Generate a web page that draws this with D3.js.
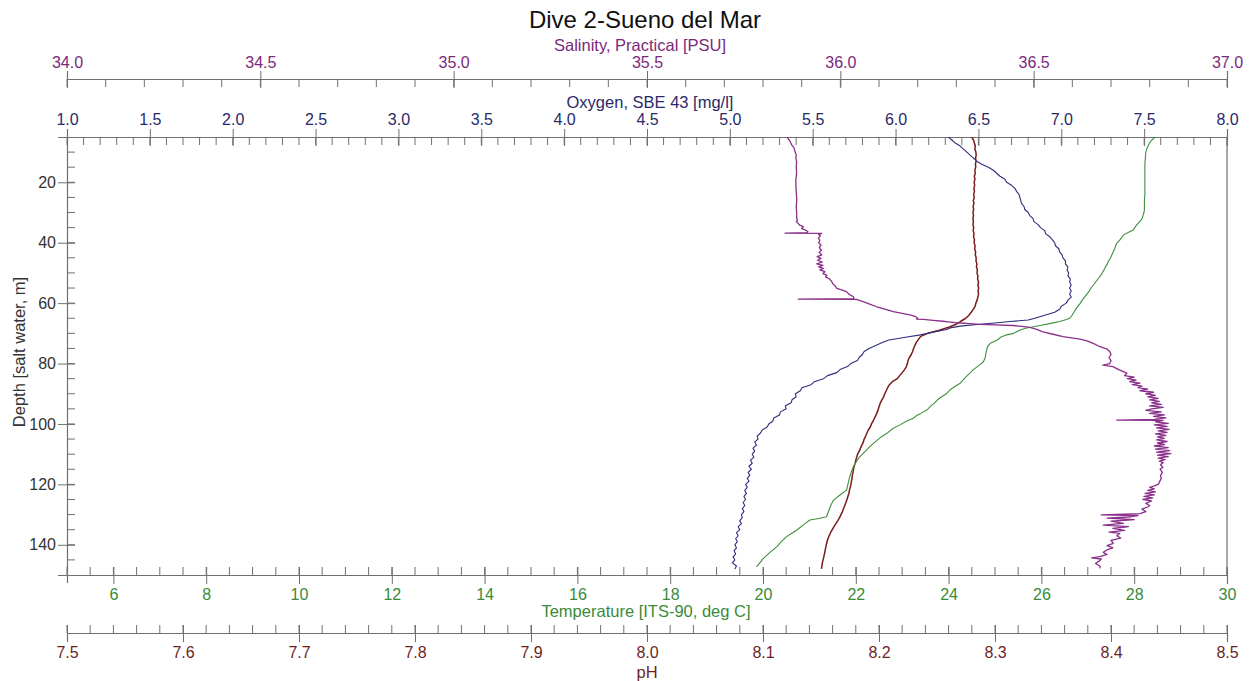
<!DOCTYPE html>
<html>
<head>
<meta charset="utf-8">
<script src="https://cdn.jsdelivr.net/npm/d3@7"></script>
<style>
  html, body { margin: 0; padding: 0; background: #fff; }
  svg { display: block; font-family: "Liberation Sans", Arial, sans-serif; }
</style>
</head>
<body>
<svg id="chart" width="1252" height="681"></svg>
<script>
// ---- Profile data: [depth (m), value] ----
const salinity = [
  [5,35.862],[6,35.868],[7,35.872],[7.6,35.874],[8.5,35.880],[9.9,35.883],[11,35.886],[12,35.885],
  [13.2,35.887],[15,35.886],[17,35.887],[19,35.885],[20.9,35.885],[23,35.886],[25,35.887],[26.4,35.887],
  [28,35.886],[30,35.887],[31.9,35.887],[32.5,35.889],[33,35.886],[33.6,35.891],[34.2,35.895],[34.7,35.904],
  [35.3,35.900],[35.8,35.910],[36.3,35.916],[36.7,35.914],[36.8,35.857],[36.9,35.952],[37.3,35.944],[37.8,35.948],
  [38.5,35.943],[39.2,35.947],[40,35.944],[40.8,35.950],[41.5,35.946],[41.9,35.947],[42.5,35.951],[43.2,35.945],
  [44,35.952],[44.6,35.940],[45.2,35.950],[45.8,35.941],[46.4,35.953],[47,35.939],[47.5,35.955],[48,35.944],
  [48.5,35.956],[49,35.947],[49.6,35.960],[50.2,35.955],[50.7,35.965],[51.3,35.962],[52,35.972],[52.9,35.978],
  [53.5,35.980],[54.2,35.986],[55.1,35.991],[55.6,36.003],[56.2,36.016],[57,36.022],[57.9,36.034],[58.5,36.035],
  [58.7,35.891],[58.75,36.042],[59.5,36.059],[60.3,36.076],[61.2,36.094],[62,36.115],[62.8,36.137],[63.4,36.160],
  [63.9,36.180],[64.5,36.195],[65,36.200],[65.3,36.197],[65.4,36.215],[65.7,36.240],[66,36.265],[66.2,36.280],
  [66.5,36.301],[66.8,36.335],[67,36.361],[67.2,36.400],[67.4,36.447],[67.7,36.470],[68,36.490],[68.7,36.508],
  [69.5,36.524],[70.3,36.550],[71.1,36.576],[71.9,36.620],[72.6,36.640],[73.3,36.654],[74.2,36.668],[75.2,36.690],
  [76.1,36.697],[77,36.700],[78,36.695],[79,36.700],[80,36.697],[80.5,36.679],[81,36.705],[82,36.720],
  [83.2,36.741],[84,36.735],[84.5,36.760],[85,36.742],[85.5,36.765],[86,36.748],[86.5,36.775],[87,36.755],
  [87.5,36.780],[88,36.770],[88.5,36.795],[89,36.775],[89.5,36.810],[90,36.790],[90.5,36.815],[91,36.795],
  [91.5,36.822],[92,36.800],[92.5,36.825],[93,36.805],[93.5,36.830],[94,36.800],[94.5,36.835],[95,36.805],
  [95.5,36.790],[96,36.830],[96.5,36.800],[97,36.838],[97.5,36.810],[98,36.842],[98.5,36.812],[98.7,36.715],
  [98.8,36.835],[99.3,36.815],[99.8,36.848],[100.3,36.812],[100.8,36.845],[101.3,36.818],[101.8,36.850],[102.3,36.822],
  [102.8,36.845],[103.3,36.815],[103.8,36.842],[104.3,36.820],[104.8,36.838],[105.3,36.818],[105.8,36.845],[106.3,36.820],
  [106.8,36.838],[107.3,36.812],[107.8,36.848],[108.3,36.815],[108.8,36.852],[109.3,36.818],[109.8,36.855],[110.3,36.820],
  [110.8,36.848],[111.3,36.822],[111.8,36.840],[112.3,36.825],[112.8,36.835],[113.5,36.828],[114.3,36.834],[115,36.827],
  [116,36.833],[117,36.828],[118,36.830],[119,36.826],[120,36.822],[120.5,36.812],[121,36.800],[121.5,36.812],
  [122,36.795],[122.5,36.815],[123,36.788],[123.5,36.812],[124,36.785],[124.5,36.808],[125,36.782],[125.5,36.805],
  [126.3,36.790],[127,36.800],[127.4,36.796],[128.2,36.780],[129,36.790],[129.7,36.775],[130.1,36.675],[130.3,36.770],
  [130.8,36.745],[131.2,36.690],[131.7,36.760],[132.2,36.700],[132.9,36.732],[133.5,36.680],[134,36.745],[134.6,36.705],
  [135.2,36.735],[135.8,36.695],[136.2,36.723],[137,36.715],[137.8,36.725],[138.5,36.700],[139.5,36.706],[140.3,36.690],
  [141,36.705],[141.7,36.689],[142.5,36.680],[143.2,36.690],[143.9,36.671],[144.3,36.650],[144.7,36.675],[145.5,36.668],
  [146.2,36.660],[146.7,36.667],[147.2,36.672],[147.8,36.671]
];

const oxygen = [
  [5,6.318],[6,6.34],[7,6.36],[8,6.39],[9,6.41],[10,6.43],[11,6.45],[12,6.47],[13,6.49],[14,6.52],
  [15,6.56],[16,6.59],[17,6.61],[18,6.63],[19,6.66],[20,6.67],[21,6.70],[22,6.72],[23,6.73],[24,6.745],
  [25,6.75],[26,6.755],[27,6.76],[28,6.775],[29,6.78],[30,6.80],[31,6.81],[32,6.83],[33,6.835],[34,6.86],
  [35,6.875],[36,6.90],[37,6.905],[38,6.93],[39,6.945],[40,6.96],[41,6.965],[42,6.985],[43,6.99],[44,7.005],
  [45,7.01],[46,7.025],[47,7.025],[48,7.04],[49,7.035],[50,7.045],[51,7.04],[52,7.055],[53,7.05],[54,7.06],
  [55,7.05],[56,7.06],[57,7.05],[58,7.06],[59,7.04],[60,7.03],[61,7.00],[62,6.99],[63,6.96],[64,6.90],
  [65,6.84],[65.6,6.80],[66.1,6.69],[66.6,6.60],[67,6.51],[67.6,6.39],[68.2,6.33],[68.7,6.31],[69.5,6.24],
  [70.5,6.15],[71.3,6.06],[72.2,5.96],[73,5.92],[74,5.88],[75,5.84],[76,5.81],[77,5.80],[78,5.78],[79,5.77],
  [80,5.73],[81,5.71],[82,5.665],[83,5.645],[84,5.59],[85,5.565],[86,5.51],[87,5.49],[88,5.435],[89,5.425],
  [90,5.395],[91,5.40],[92,5.375],[93,5.37],[94,5.335],[95,5.34],[96,5.305],[97,5.30],[98,5.265],[99,5.26],
  [100,5.235],[101,5.225],[102,5.195],[103,5.185],[104,5.165],[105,5.17],[106,5.15],[107,5.16],[108,5.14],
  [109,5.15],[110,5.135],[111,5.145],[112,5.125],[113,5.135],[114,5.115],[115,5.13],[116,5.11],[117,5.12],
  [118,5.105],[119,5.115],[120,5.095],[121,5.105],[122,5.09],[123,5.10],[124,5.085],[125,5.095],[126,5.08],
  [127,5.09],[128,5.075],[129,5.085],[130,5.07],[131,5.075],[132,5.06],[133,5.07],[134,5.05],[135,5.06],
  [136,5.04],[137,5.05],[138,5.035],[139,5.045],[140,5.03],[141,5.04],[142,5.025],[143,5.035],[144,5.02],
  [145,5.03],[146,5.015],[147,5.04],[148,5.03]
];

const temperature = [
  [5,28.45],[6,28.38],[7,28.33],[8,28.30],[9,28.27],[10,28.25],[12,28.24],[14,28.23],[16,28.23],[18,28.23],
  [20,28.23],[22,28.23],[24,28.23],[26,28.22],[28,28.22],[29.2,28.22],[30,28.21],[31,28.19],[32,28.17],[33,28.12],
  [34,28.06],[35,28.01],[35.8,27.98],[36.5,27.88],[37.4,27.77],[38.5,27.72],[39.3,27.68],[40.2,27.62],[41,27.60],
  [42,27.58],[43,27.55],[44,27.52],[45,27.49],[46,27.45],[47,27.42],[48,27.38],[49,27.35],[50,27.31],[51,27.27],
  [52,27.22],[53,27.17],[54,27.12],[55,27.07],[56,27.03],[57,26.98],[58,26.93],[59,26.88],[60,26.84],[61,26.79],
  [62,26.74],[63,26.70],[64,26.66],[65,26.61],[65.5,26.52],[66.1,26.40],[66.7,26.20],[67.3,26.00],[67.8,25.83],
  [68.3,25.66],[68.9,25.54],[70,25.40],[70.5,25.25],[71.3,25.12],[72.2,25.05],[73.3,24.90],[74.3,24.84],[75.5,24.82],
  [77,24.80],[78,24.79],[79.4,24.75],[80.5,24.66],[82.1,24.53],[83,24.47],[84,24.40],[85,24.34],[86.5,24.25],
  [87.5,24.14],[88.5,24.05],[89.9,23.96],[91,23.85],[92,23.76],[93,23.70],[94,23.62],[95.4,23.53],[96.5,23.40],
  [97.3,23.30],[98.1,23.24],[99,23.10],[100.3,22.95],[101.5,22.80],[103.1,22.67],[104.5,22.53],[105.5,22.45],
  [106.4,22.38],[108,22.27],[109.7,22.16],[111,22.08],[112.5,22.01],[114.1,21.95],[116,21.90],[118,21.86],
  [120,21.83],[121.9,21.80],[123.5,21.66],[125.2,21.52],[127,21.46],[129,21.41],[130.7,21.37],[131.3,21.20],
  [131.8,21.01],[133.4,20.87],[135.1,20.73],[136.2,20.62],[137.3,20.51],[138.9,20.40],[140.6,20.30],[142.5,20.15],
  [144.5,20.01],[146,19.93],[147.3,19.86]
];

const ph = [
  [5,8.2799],[6,8.2815],[7,8.2822],[8,8.2830],[9,8.2826],[10,8.2835],[11,8.2838],[12,8.2832],[13,8.2837],[14,8.2831],
  [15,8.2834],[16,8.2826],[17,8.2830],[18,8.2822],[19,8.2827],[20,8.2820],[21,8.2825],[22,8.2818],[23,8.2823],[24,8.2816],
  [25,8.2821],[26,8.2813],[27,8.2818],[28,8.2811],[29,8.2816],[30,8.2810],[31,8.2815],[32,8.2809],[33,8.2814],[34,8.2810],
  [35,8.2816],[36,8.2812],[37,8.2819],[38,8.2815],[39,8.2823],[40,8.2820],[41,8.2828],[42,8.2825],[43,8.2833],[44,8.2830],
  [45,8.2838],[46,8.2836],[47,8.2844],[48,8.2840],[49,8.2848],[50,8.2845],[51,8.2853],[52,8.2850],[53,8.2858],[54,8.2853],
  [55,8.2859],[56,8.2854],[57,8.2858],[58,8.2852],[59,8.2846],[60,8.2835],[61,8.2829],[62,8.2814],[63,8.2795],[64,8.2775],
  [65,8.2748],[66,8.2705],[67,8.2665],[68,8.2600],[69,8.2520],[70,8.2420],[71,8.2360],[72,8.2340],[73,8.2322],[74,8.2310],
  [75,8.2298],[76,8.2290],[77,8.2278],[78,8.2262],[79,8.2250],[80,8.2245],[81,8.2236],[82,8.2220],[83,8.2200],[84,8.2178],
  [85,8.2158],[86,8.2115],[87,8.2090],[88,8.2075],[89,8.2062],[90,8.2050],[91,8.2040],[92,8.2025],[93,8.2012],[94,8.2003],
  [95,8.1995],[96,8.1985],[97,8.1975],[98,8.1962],[99,8.1950],[100,8.1935],[101,8.1925],[102,8.1908],[103,8.1896],[104,8.1885],
  [105,8.1872],[106,8.1865],[107,8.1852],[108,8.1840],[109,8.1830],[110,8.1815],[111,8.1808],[112,8.1800],[113,8.1795],[114,8.1785],
  [115,8.1780],[116,8.1776],[117,8.1770],[118,8.1768],[119,8.1762],[120,8.1758],[121,8.1752],[122,8.1745],[123,8.1740],[124,8.1732],
  [125,8.1724],[126,8.1715],[127,8.1705],[128,8.1695],[129,8.1685],[130,8.1672],[131,8.1660],[132,8.1645],[133,8.1628],[134,8.1612],
  [135,8.1597],[136,8.1582],[137,8.1570],[138,8.1560],[139,8.1552],[140,8.1546],[141,8.1540],[142,8.1535],[143,8.1530],[144,8.1524],
  [145,8.1518],[146,8.1512],[147,8.1508],[148,8.1504]
];

// ---- Axis tick values ----
const salinityTicks = [34.0, 34.5, 35.0, 35.5, 36.0, 36.5, 37.0];
const oxygenTicks = [1.0, 1.5, 2.0, 2.5, 3.0, 3.5, 4.0, 4.5, 5.0, 5.5, 6.0, 6.5, 7.0, 7.5, 8.0];
const temperatureTicks = [6, 8, 10, 12, 14, 16, 18, 20, 22, 24, 26, 28, 30];
const phTicks = [7.5, 7.6, 7.7, 7.8, 7.9, 8.0, 8.1, 8.2, 8.3, 8.4, 8.5];
const depthTicks = [20, 40, 60, 80, 100, 120, 140];

// ---- Colours ----
const C = {
  sal: "#8a2f8a", salText: "#7b2a7b",
  oxy: "#2d2d7c", oxyText: "#2a2a6a",
  temp: "#3f8f3f", tempText: "#3a8a3a",
  ph: "#7a1c1c", phText: "#6e1f1f",
  axis: "#707070", text: "#333"
};

const FONT = "'Liberation Sans', Arial, sans-serif";
const TICK_FS = 16, AXIS_FS = 16.5;

// ---- Layout ----
const L = 67, R = 1227, T = 137, B = 575;
const svg = d3.select("#chart");

const y = d3.scaleLinear().domain([5, 150]).range([T, B]);
const xSal = d3.scaleLinear().domain([34, 37]).range([L, R]);
const xOxy = d3.scaleLinear().domain([1, 8]).range([L, R]);
const xTemp = d3.scaleLinear().domain([5, 30]).range([L, R]);
const xPh = d3.scaleLinear().domain([7.5, 8.5]).range([L, R]);

// Horizontal axis: long major ticks crossing the line, short minor ticks on one side
function hAxis(scale, yPos, majors, minorStep, fmt, color, labelY, minorDir) {
  const g = svg.append("g").attr("transform", `translate(0,${yPos})`);
  const [d0, d1] = scale.domain();
  const minors = d3.range(d0, d1 + minorStep / 2, minorStep);
  g.selectAll("line.minor").data(minors).join("line")
    .attr("x1", d => scale(d)).attr("x2", d => scale(d))
    .attr("y1", 0).attr("y2", 8 * minorDir)
    .attr("stroke", C.axis).attr("stroke-width", 1);
  const ax = (minorDir > 0 ? d3.axisTop(scale) : d3.axisBottom(scale))
    .tickValues(majors).tickFormat(fmt).tickSizeOuter(0).tickSize(8);
  g.call(ax);
  g.select(".domain").attr("stroke", C.axis).attr("stroke-width", 1.2);
  g.selectAll(".tick line").attr("y1", -8).attr("y2", 9).attr("stroke", C.axis);
  g.selectAll(".tick text")
    .attr("y", labelY - yPos).attr("dy", "0.35em")
    .attr("fill", color).attr("font-size", TICK_FS)
    .attr("font-family", FONT);
  return g;
}

hAxis(xSal, 79, salinityTicks, 0.1, d3.format(".1f"), C.salText, 62, 1);
hAxis(xOxy, T, oxygenTicks, 0.1, d3.format(".1f"), C.oxyText, 119, 1);
hAxis(xTemp, B, temperatureTicks, 0.5, d3.format("d"), C.tempText, 594, -1);
hAxis(xPh, 633, phTicks, 0.02, d3.format(".1f"), C.phText, 652, -1);

// Depth axis on the left
const gy = svg.append("g").attr("transform", `translate(${L},0)`);
gy.selectAll("line.minor").data(d3.range(10, 150, 5)).join("line")
  .attr("x1", 0).attr("x2", 8)
  .attr("y1", d => y(d)).attr("y2", d => y(d))
  .attr("stroke", C.axis);
gy.call(d3.axisLeft(y).tickValues(depthTicks).tickSizeOuter(0).tickSize(9));
gy.select(".domain").attr("stroke", C.axis).attr("stroke-width", 1.2);
gy.selectAll(".tick line").attr("x1", -9).attr("x2", 8).attr("stroke", C.axis);
gy.selectAll(".tick text").attr("x", -11).attr("fill", C.text).attr("font-size", TICK_FS)
  .attr("font-family", FONT);

// Right frame edge
svg.append("line").attr("x1", R).attr("x2", R).attr("y1", T).attr("y2", B)
  .attr("stroke", C.axis).attr("stroke-width", 1.2);

// Titles
const title = (txt, x, yy, size, color, rot) => {
  const t = svg.append("text").text(txt)
    .attr("text-anchor", "middle").attr("dy", "0.35em")
    .attr("font-size", size).attr("fill", color);
  if (rot) t.attr("transform", `translate(${x},${yy}) rotate(-90)`);
  else t.attr("x", x).attr("y", yy);
};
title("Dive 2-Sueno del Mar", 645, 20, 24, "#111");
title("Salinity, Practical [PSU]", 640, 45, AXIS_FS, C.salText);
title("Oxygen, SBE 43 [mg/l]", 650, 102, AXIS_FS, C.oxyText);
title("Temperature [ITS-90, deg C]", 646, 611, AXIS_FS, C.tempText);
title("pH", 647, 672, AXIS_FS, C.phText);
title("Depth [salt water, m]", 19, 352, AXIS_FS, C.text, true);

// Profiles, clipped to the plot frame
svg.append("clipPath").attr("id", "plot").append("rect")
  .attr("x", L).attr("y", T).attr("width", R - L).attr("height", B - T);
const plot = svg.append("g").attr("clip-path", "url(#plot)");

const profile = (data, xs, color, w) => plot.append("path")
  .datum(data)
  .attr("d", d3.line().x(d => xs(d[1])).y(d => y(d[0])))
  .attr("fill", "none").attr("stroke", color).attr("stroke-width", w)
  .attr("stroke-linejoin", "round");

profile(ph, xPh, C.ph, 1.5);
profile(temperature, xTemp, C.temp, 1.1);
profile(oxygen, xOxy, C.oxy, 1.1);
profile(salinity, xSal, C.sal, 1.3);
</script>
</body>
</html>
